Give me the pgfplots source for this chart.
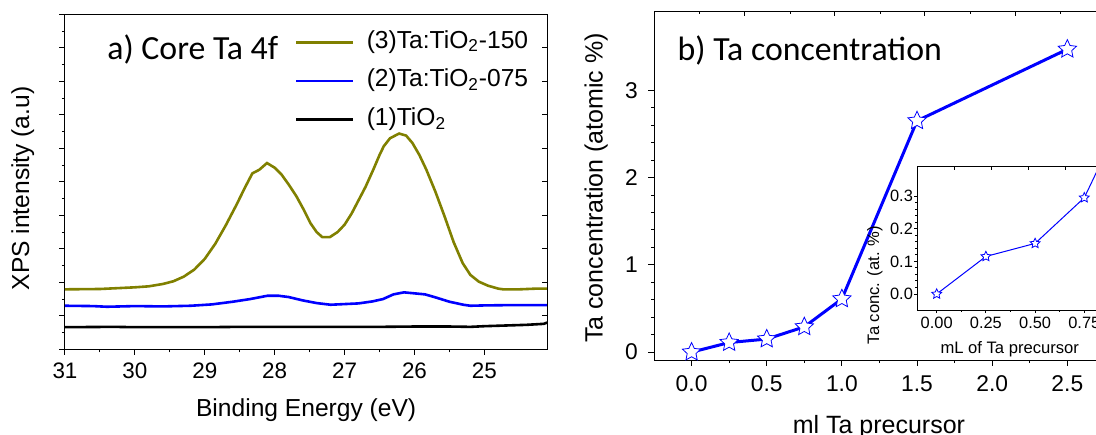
\documentclass[border=0pt]{standalone}
\usepackage{pgfplots}
\pgfplotsset{compat=1.18}
\usepackage{fontspec}
\setmainfont{Liberation Sans}
\newfontfamily\calib{Carlito}

\definecolor{olivec}{RGB}{128,128,0}
\definecolor{starblue}{RGB}{0,0,255}

% open five-pointed star, as drawn by Origin
\pgfdeclareplotmark{ostar}{%
  \pgfpathmoveto{\pgfpointpolar{90}{\pgfplotmarksize}}%
  \pgfpathlineto{\pgfpointpolar{126}{0.48*\pgfplotmarksize}}%
  \pgfpathlineto{\pgfpointpolar{162}{\pgfplotmarksize}}%
  \pgfpathlineto{\pgfpointpolar{198}{0.48*\pgfplotmarksize}}%
  \pgfpathlineto{\pgfpointpolar{234}{\pgfplotmarksize}}%
  \pgfpathlineto{\pgfpointpolar{270}{0.48*\pgfplotmarksize}}%
  \pgfpathlineto{\pgfpointpolar{306}{\pgfplotmarksize}}%
  \pgfpathlineto{\pgfpointpolar{342}{0.48*\pgfplotmarksize}}%
  \pgfpathlineto{\pgfpointpolar{18}{\pgfplotmarksize}}%
  \pgfpathlineto{\pgfpointpolar{54}{0.48*\pgfplotmarksize}}%
  \pgfpathclose
  \pgfusepathqfillstroke
}

\pgfplotsset{
  common/.style={
    scale only axis,
    axis line style={line width=0.5pt},
    every tick/.style={black, line width=0.5pt},
    /pgf/number format/assume math mode=true,
    tick label style={inner sep=0pt},
  },
}

\pgfplotstableread{
x y
31.0 1.79
30.5 1.80
30.0 1.85
29.8 1.88
29.6 1.95
29.45 2.03
29.3 2.17
29.15 2.38
29.0 2.70
28.85 3.15
28.7 3.70
28.55 4.30
28.42 4.85
28.32 5.25
28.22 5.36
28.11 5.56
28.0 5.42
27.9 5.21
27.8 4.92
27.69 4.57
27.58 4.15
27.49 3.77
27.40 3.50
27.32 3.35
27.21 3.35
27.1 3.50
27.0 3.72
26.9 4.05
26.82 4.37
26.7 4.85
26.59 5.36
26.5 5.80
26.44 6.06
26.35 6.30
26.22 6.44
26.12 6.38
26.03 6.16
25.93 5.80
25.83 5.36
25.7 4.70
25.57 3.97
25.44 3.20
25.31 2.57
25.2 2.22
25.08 2.02
24.95 1.90
24.8 1.81
24.73 1.79
24.5 1.79
24.27 1.81
24.1 1.81
}\taonefifty

\pgfplotstableread{
x y
31.0 1.30
30.6 1.29
30.4 1.27
30.0 1.29
29.6 1.28
29.2 1.30
28.9 1.34
28.6 1.42
28.35 1.50
28.1 1.60
27.95 1.60
27.8 1.56
27.6 1.46
27.4 1.38
27.2 1.33
27.0 1.35
26.8 1.37
26.6 1.43
26.45 1.50
26.3 1.64
26.15 1.70
26.0 1.67
25.85 1.64
25.7 1.55
25.5 1.42
25.3 1.33
25.2 1.30
25.0 1.31
24.6 1.32
24.1 1.32
}\tazeroseventyfive

\pgfplotstableread{
x y
31.0 0.66
30.3 0.67
30.0 0.66
29.0 0.66
28.5 0.67
28.0 0.67
27.5 0.67
27.0 0.67
26.5 0.67
26.0 0.68
25.5 0.68
25.2 0.67
25.0 0.69
24.7 0.71
24.4 0.73
24.15 0.76
24.1 0.80
}\tiotwo

\pgfplotstableread{
x y
0.0 0.00
0.25 0.11
0.5 0.15
0.75 0.29
1.0 0.61
1.5 2.65
2.5 3.47
}\conc

\pgfplotstableread{
x y
0.0 0.000
0.25 0.115
0.5 0.155
0.75 0.295
1.0 0.61
}\concinset

\begin{document}
\begin{tikzpicture}[x=1pt,y=1pt]
\useasboundingbox (0,0) rectangle (548,217);

% ---------- a) XPS ----------
\begin{axis}[common,
  at={(32.5pt,42.35pt)}, anchor=south west,
  width=241.15pt, height=167.5pt,
  x dir=reverse, xmin=24.1, xmax=31, ymin=0, ymax=10,
  xtick={25,26,27,28,29,30,31}, minor x tick num=1,
  ytick={0,1,...,10}, minor y tick num=1, yticklabels={},
  tick align=outside, xtick pos=left, ytick pos=left,
  major tick length=2.8pt, minor tick length=1.5pt,
  xticklabel shift=4pt,
  tick label style={font=\fontsize{11.2}{13}\selectfont},
  xlabel={Binding Energy (eV)},
  ylabel={XPS intensity (a.u)},
  label style={font=\fontsize{12.3}{14}\selectfont},
  xlabel style={at={(axis description cs:0.5,-0.202)}, anchor=base},
  ylabel style={at={(axis description cs:-0.0746,0.48)}, anchor=base},
  legend style={at={(axis description cs:0.476,0.96)}, anchor=north west,
    draw=none, fill=none, inner sep=0pt, row sep=4.8pt, column sep=5pt,
    font=\fontsize{12.3}{14}\selectfont,
    nodes={inner sep=1pt, text height=9pt, text depth=3.5pt}},
  legend cell align=left,
  legend image code/.code={\draw[#1] (0pt,0pt) -- (28.6pt,0pt);},
]
\addplot[olivec, line width=1.3pt] table[x=x,y=y] {\taonefifty};
\addlegendentry{(3)Ta:TiO\textsubscript{2}-150}
\addplot[starblue, line width=1.3pt] table[x=x,y=y] {\tazeroseventyfive};
\addlegendentry{(2)Ta:TiO\textsubscript{2}-075}
\addplot[black, line width=1.3pt] table[x=x,y=y] {\tiotwo};
\addlegendentry{(1)TiO\textsubscript{2}}
\node[font=\calib\fontsize{16.9}{20}\selectfont, anchor=base west, inner sep=0pt]
  at (axis description cs:0.087,0.8636) {a) Core Ta 4f};
\end{axis}
% inward ticks on the right side
\begin{axis}[common,
  at={(32.5pt,42.35pt)}, anchor=south west,
  width=241.15pt, height=167.5pt,
  x dir=reverse, xmin=24.1, xmax=31, ymin=0, ymax=10,
  axis x line=none, axis y line*=right,
  ytick={1,...,9}, yticklabels={}, tick align=inside,
  major tick length=2.8pt,
]
\end{axis}

% ---------- b) Ta concentration ----------
\begin{axis}[common,
  at={(327pt,37pt)}, anchor=south west,
  width=225.45pt, height=174.15pt,
  xmin=-0.25, xmax=2.75, ymin=-0.09, ymax=3.9,
  xtick={0,0.5,1,1.5,2,2.5}, minor x tick num=1,
  ytick={0,1,2,3}, minor y tick num=4,
  tick align=outside, xtick pos=left, ytick pos=left,
  major tick length=2.8pt, minor tick length=1.5pt,
  xticklabel shift=4.7pt, yticklabel shift=5.05pt,
  xticklabel style={/pgf/number format/.cd, fixed, fixed zerofill, precision=1},
  tick label style={font=\fontsize{11.4}{13}\selectfont},
  xlabel={ml Ta precursor},
  ylabel={Ta concentration (atomic \%)},
  label style={font=\fontsize{12.5}{14}\selectfont},
  xlabel style={at={(axis description cs:0.4988,-0.2096)}, anchor=base},
  ylabel style={at={(axis description cs:-0.114,0.494)}, anchor=base},
]
\addplot[starblue, line width=1.5pt, mark=ostar, mark size=4.8pt,
  mark options={line width=0.4pt, fill=white}] table[x=x,y=y] {\conc};
\node[font=\calib\fontsize{16.9}{20}\selectfont, anchor=base west, inner sep=0pt]
  at (axis description cs:0.0517,0.859) {b) Ta concentration};
\end{axis}
\begin{axis}[common,
  at={(327pt,37pt)}, anchor=south west,
  width=225.45pt, height=174.15pt,
  xmin=-0.25, xmax=2.75, ymin=-0.09, ymax=3.9,
  axis y line=none, axis x line*=top,
  xtick={0.355,0.954,1.552,2.158}, xticklabels={},
  minor xtick={0.055,0.655,1.254,1.855,2.457},
  tick align=inside, major tick length=2pt, minor tick length=1.2pt,
]
\end{axis}

% ---------- inset ----------
\begin{axis}[common,
  at={(458.5pt,62pt)}, anchor=south west,
  width=98.4pt, height=71.65pt,
  xmin=-0.1, xmax=0.9, ymin=-0.049, ymax=0.39,
  xtick={0,0.25,0.5,0.75}, minor x tick num=1,
  ytick={0,0.1,0.2,0.3}, minor y tick num=4,
  tick align=outside, xtick pos=left, ytick pos=left,
  major tick length=1.5pt, minor tick length=0.8pt,
  xticklabel shift=1.85pt, yticklabel shift=0.35pt,
  xticklabel style={/pgf/number format/.cd, fixed, fixed zerofill, precision=2},
  yticklabel style={/pgf/number format/.cd, fixed, fixed zerofill, precision=1},
  tick label style={font=\fontsize{8.2}{10}\selectfont},
  xlabel={mL of Ta precursor},
  ylabel={Ta conc. (at. \%)},
  label style={font=\fontsize{8.3}{10}\selectfont},
  xlabel style={at={(axis description cs:0.471,-0.307)}, anchor=base},
  ylabel style={at={(axis description cs:-0.193,0.174)}, anchor=base},
]
\addplot[starblue, line width=0.5pt, mark=ostar, mark size=2.6pt,
  mark options={line width=0.4pt, fill=white}] table[x=x,y=y] {\concinset};
\end{axis}
\begin{axis}[common,
  at={(458.5pt,62pt)}, anchor=south west,
  width=98.4pt, height=71.65pt,
  xmin=-0.1, xmax=0.9, ymin=-0.049, ymax=0.39,
  axis y line=none, axis x line*=top,
  xtick={0.093,0.279,0.465,0.652,0.838}, xticklabels={},
  tick align=inside, major tick length=1.5pt,
]
\end{axis}
\end{tikzpicture}
\end{document}
